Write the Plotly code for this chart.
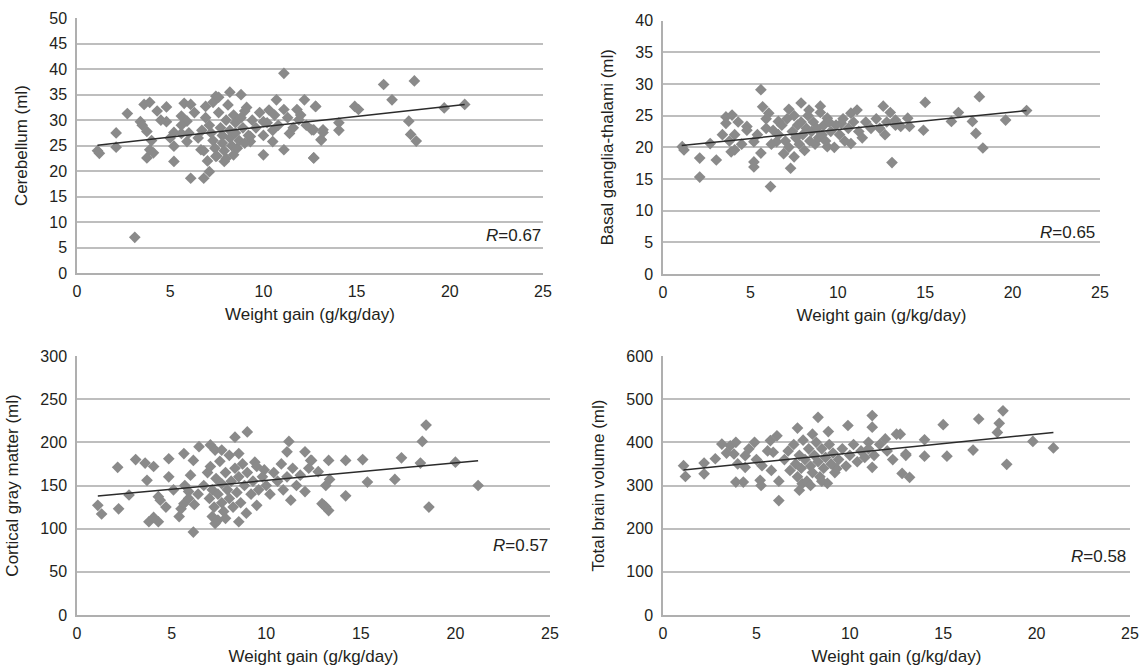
import plotly.graph_objects as go

# ---------------- data ----------------
# Panel A: Cerebellum
cb_x = [1.1, 1.2, 2.1, 2.1, 2.7, 3.1, 3.4, 3.6, 3.9, 3.75, 3.9, 3.75, 4.1, 4.3, 4.8, 4.8, 5.2, 5.2, 5.2,
        5.75, 6.1, 5.6, 5.9, 6.1, 5.6, 5.9, 6.65, 6.8, 7.1, 6.9, 7.45, 8.2, 8.8, 8.4, 7.9, 7.45, 9.0,
        9.3, 9.3, 10.0, 10.0, 10.7, 10.5, 11.1, 11.1, 11.4, 11.8, 12.2, 11.9, 12.7, 12.8, 12.6, 13.2,
        13.1, 11.1, 12.8, 12.7, 13.1, 13.2, 12.7, 14.05, 14.05, 14.9, 15.1, 16.45, 16.9, 18.1, 17.8,
        17.9, 18.2, 19.7, 20.8,
        6.9, 7.1, 7.2, 7.3, 7.4, 7.5, 7.6, 7.7, 7.8, 7.8, 7.9, 8.0, 8.0, 8.1, 8.2, 8.2, 8.3, 8.4, 8.5,
        8.5, 8.6, 8.7, 8.8, 8.9, 9.0, 9.1, 9.2, 9.4, 9.6, 9.8, 10.0, 10.2, 10.3, 10.5, 10.6, 10.8, 11.3,
        11.6, 12.0, 12.3, 6.5, 6.7, 6.8, 7.0, 7.3, 7.6, 6.3, 6.0, 5.6, 4.5, 4.0, 5.0, 3.5]
cb_y = [24.0, 23.5, 27.5, 24.7, 31.3, 7.0, 29.7, 33.1, 33.5, 27.8, 24.2, 22.6, 23.6, 31.8, 32.6, 29.7,
        24.9, 21.9, 27.6, 33.3, 33.1, 30.8, 29.8, 18.6, 27.4, 25.8, 24.2, 18.6, 19.9, 32.7, 34.7, 35.5,
        35.0, 23.2, 21.9, 22.9, 31.8, 26.8, 25.8, 23.2, 29.7, 34.0, 25.8, 32.1, 24.2, 27.4, 32.1, 34.0,
        30.1, 22.6, 32.7, 28.1, 28.1, 26.1, 39.2, 32.7, 28.1, 26.2, 27.6, 22.6, 29.5, 28.0, 32.7, 32.1,
        37.0, 34.0, 37.7, 29.8, 27.2, 25.9, 32.4, 33.1,
        30.5, 29.0, 27.5, 26.0, 24.5, 23.0, 31.5, 28.5, 27.0, 25.5, 24.0, 30.0, 22.5, 33.0, 28.0, 26.5,
        25.0, 31.0, 29.5, 27.5, 24.5, 26.0, 30.5, 28.5, 25.5, 32.5, 27.0, 30.0, 28.5, 31.5, 27.0, 29.5,
        32.0, 28.0, 31.0, 29.0, 30.5, 28.5, 31.0, 29.0, 26.5, 28.0, 24.0, 22.0, 33.5, 34.5, 31.5, 27.5,
        29.0, 30.0, 26.0, 26.5, 29.0]
cb_fit_x = [1.1, 20.8]
cb_fit_y = [25.1, 33.1]

# Panel B: Basal ganglia-thalami
bg_x = [1.2, 1.1, 2.1, 2.1, 2.7, 3.05, 3.4, 3.6, 3.95, 3.6, 4.1, 4.1, 3.9, 4.8, 4.8, 5.2, 5.2, 5.2,
        5.6, 5.7, 6.05, 6.15, 5.6, 5.9, 6.3, 6.6, 6.5, 7.2, 7.3, 7.9, 8.35, 9.0, 9.4, 9.4, 10.2, 10.75,
        11.1, 10.75, 12.6, 12.7, 13.1, 13.3, 14.0, 14.1, 13.6, 15.0, 14.9, 16.5, 16.9, 17.7, 18.1, 17.9,
        18.3, 19.6, 20.8,
        6.6, 6.8, 7.0, 7.1, 7.2, 7.4, 7.5, 7.6, 7.7, 7.8, 7.9, 8.0, 8.1, 8.2, 8.3, 8.4, 8.5, 8.6, 8.7,
        8.8, 8.9, 9.0, 9.1, 9.2, 9.3, 9.5, 9.6, 9.8, 9.9, 10.1, 10.3, 10.4, 10.6, 10.9, 11.2, 11.4,
        11.6, 11.9, 12.2, 12.4, 12.8, 13.0, 13.3, 6.2, 5.9, 5.4, 4.5, 4.3, 3.8, 6.9, 7.5]
bg_y = [19.6, 20.1, 18.3, 15.3, 20.6, 18.0, 22.0, 24.8, 25.1, 23.8, 22.0, 19.6, 19.3, 23.3, 22.7, 20.9,
        17.7, 16.9, 29.1, 26.4, 25.4, 13.8, 19.1, 23.0, 22.7, 24.1, 20.9, 26.0, 16.7, 27.0, 25.9, 26.5,
        24.6, 20.1, 23.8, 25.4, 25.9, 20.6, 26.5, 22.0, 17.6, 24.3, 24.6, 23.3, 23.3, 27.1, 22.7, 24.1,
        25.5, 24.1, 28.0, 22.2, 19.9, 24.3, 25.8,
        22.0, 23.5, 21.0, 24.5, 20.0, 22.5, 25.0, 21.5, 23.5, 20.5, 24.0, 22.0, 19.5, 23.0, 25.0, 21.0,
        22.5, 24.0, 20.5, 23.0, 21.5, 25.5, 22.0, 23.5, 21.0, 24.0, 22.5, 20.0, 23.5, 22.0, 24.5, 21.0,
        23.0, 24.0, 22.5, 21.5, 24.0, 23.0, 24.5, 23.0, 24.0, 25.5, 23.5, 20.5, 24.5, 22.0, 20.5, 24.0,
        21.0, 19.0, 18.5]
bg_fit_x = [1.07, 20.8]
bg_fit_y = [20.3, 25.8]

# Panel C: Cortical gray matter
cg_x = [1.1, 1.3, 2.15, 2.2, 2.75, 3.1, 3.6, 3.7, 4.05, 3.8, 4.3, 4.05, 4.3, 4.4, 4.85, 4.85, 5.4, 5.5,
        5.65, 5.65, 6.15, 6.0, 6.15, 6.45, 5.9, 7.05, 7.3, 7.65, 7.15, 7.3, 8.35, 9.0, 8.55, 8.55, 9.5,
        9.4, 9.9, 11.2, 11.1, 11.3, 12.05, 12.05, 12.4, 12.95, 13.15, 12.35, 12.25, 12.75, 13.3, 13.15,
        13.35, 13.05, 13.3, 14.2, 14.2, 15.1, 15.35, 16.8, 17.15, 18.45, 18.25, 18.15, 18.6, 20.0, 21.2,
        6.7, 6.9, 7.0, 7.05, 7.15, 7.25, 7.35, 7.45, 7.55, 7.65, 7.65, 7.75, 7.85, 7.95, 8.05, 8.05, 8.15,
        8.25, 8.35, 8.45, 8.55, 8.65, 8.75, 8.85, 8.95, 9.0, 9.2, 9.3, 9.5, 9.6, 9.8, 10.0, 10.2, 10.4,
        10.6, 10.8, 10.9, 11.1, 11.4, 11.6, 11.8, 6.4, 6.2, 5.9, 5.7, 5.1, 4.7, 7.45, 7.85]
cg_y = [127, 117, 171, 123, 139, 180, 176, 156, 172, 108, 108, 113, 137, 133, 181, 160, 114, 123,
        129, 187, 179, 162, 96, 195, 143, 197, 191, 191, 114, 106, 206, 212, 187, 108, 127, 177,
        168, 201, 189, 133, 189, 143, 179, 129, 125, 179, 170, 166, 179, 150, 157, 127,
        121, 179, 138, 180, 154, 157, 182, 220, 201, 176, 125, 177, 150,
        150, 165, 135, 172, 145, 125, 158, 140, 178, 130, 152, 120, 165, 145, 135, 185, 155, 125, 170,
        142, 160, 130, 175, 150, 118, 165, 140, 155, 172, 145, 160, 150, 140, 165, 155, 175, 145,
        160, 170, 150, 162, 140, 128, 135, 150, 145, 125, 110, 112]
cg_fit_x = [1.1, 21.2]
cg_fit_y = [137.7, 178.6]

# Panel D: Total brain volume
tb_x = [1.1, 1.2, 2.2, 2.2, 2.8, 3.15, 3.6, 3.9, 3.8, 3.9, 4.3, 4.4, 4.4, 4.9, 5.2, 5.25, 5.3, 5.75,
        5.9, 6.2, 6.1, 5.8, 7.2, 7.3, 7.45, 8.3, 8.0, 8.85, 9.3, 9.9, 11.2, 11.2, 11.2, 11.0, 11.9, 12.5,
        12.8, 13.2, 13.0, 12.7, 13.0, 14.0, 14.0, 15.0, 15.2, 16.6, 16.9, 18.2, 18.0, 17.9, 18.4, 19.8,
        20.9,
        6.5, 6.7, 6.8, 7.0, 7.1, 7.2, 7.3, 7.4, 7.5, 7.6, 7.7, 7.8, 7.9, 8.0, 8.1, 8.2, 8.3, 8.4, 8.5,
        8.6, 8.7, 8.8, 8.9, 9.0, 9.1, 9.2, 9.4, 9.6, 9.8, 10.0, 10.2, 10.4, 10.6, 10.8, 11.0, 11.3, 11.6,
        12.0, 12.3, 6.2, 5.6, 5.0, 4.6, 4.0, 3.4, 7.9, 8.5]
tb_y = [346, 321, 352, 327, 362, 396, 392, 400, 373, 308, 308, 369, 342, 400, 312, 300, 346, 404,
        377, 265, 415, 335, 433, 289, 304, 458, 419, 425, 339, 439, 462, 435, 342, 400, 408, 419,
        328, 319, 370, 419, 373, 406, 368, 441, 368, 382, 454, 473, 444, 423, 349, 402,
        387,
        360, 380, 335, 395, 350, 320, 370, 340, 405, 360, 310, 385, 345, 330, 370, 400, 355, 320, 385,
        340, 365, 305, 395, 350, 375, 330, 360, 385, 345, 370, 395, 355, 380, 365, 385, 370, 395,
        380, 360, 310, 380, 360, 385, 350, 375, 300, 310]
tb_fit_x = [1.1, 20.9]
tb_fit_y = [336, 423]

x_ticks = [0, 5, 10, 15, 20, 25]
x_title = "Weight gain (g/kg/day)"
y_titles = ["Cerebellum (ml)", "Basal ganglia-thalami (ml)",
            "Cortical gray matter (ml)", "Total brain volume (ml)"]
r_labels = ["0.67", "0.65", "0.57", "0.58"]
y_ranges = [(0, 50, 5), (0, 40, 5), (0, 300, 50), (0, 600, 100)]
r_pos = [(25.0, 7.4), (24.8, 6.5), (25.0, 81), (24.9, 136)]

# ---------------- figure ----------------
W, H = 1145, 670
def px(v):
    return v / W
def py(v):
    return 1 - v / H

doms = [
    ((px(77), px(543)), (py(273), py(18.3))),
    ((px(663), px(1100)), (py(274), py(20.7))),
    ((px(77), px(550)), (py(615), py(356))),
    ((px(663), px(1130)), (py(615), py(356))),
]

MARK = "rgb(138,138,138)"
TXT = "#231f20"
GRID = "rgb(190,190,190)"
AXL = "rgb(175,175,175)"
FONT = "Liberation Sans, Arial, sans-serif"

fig = go.Figure()
series = [(cb_x, cb_y, cb_fit_x, cb_fit_y), (bg_x, bg_y, bg_fit_x, bg_fit_y),
          (cg_x, cg_y, cg_fit_x, cg_fit_y), (tb_x, tb_y, tb_fit_x, tb_fit_y)]

layout = dict(
    width=W, height=H, margin=dict(l=0, r=0, t=0, b=0, pad=0),
    paper_bgcolor="white", plot_bgcolor="white", showlegend=False,
    font=dict(family=FONT, size=16, color=TXT),
    annotations=[],
)

for i, (sx, sy, fx, fy) in enumerate(series):
    n = "" if i == 0 else str(i + 1)
    xa, ya = "x" + n, "y" + n
    fig.add_trace(go.Scatter(x=sx, y=sy, mode="markers", xaxis=xa, yaxis=ya,
                             marker=dict(symbol="diamond", size=9, color=MARK,
                                         line=dict(width=0))))
    fig.add_trace(go.Scatter(x=fx, y=fy, mode="lines", xaxis=xa, yaxis=ya,
                             line=dict(color="#2b2b2b", width=1.5)))
    y0, y1, dy = y_ranges[i]
    layout["xaxis" + n] = dict(
        domain=list(doms[i][0]), anchor=ya, range=[0, 25], tickvals=x_ticks,
        showgrid=False, zeroline=False, showline=True, linecolor=AXL,
        linewidth=1.5, ticks="", automargin=False, ticklabelstandoff=3,
        tickfont=dict(size=16, color=TXT),
        title=dict(text=x_title, font=dict(size=17, color=TXT), standoff=9),
    )
    layout["yaxis" + n] = dict(
        domain=list(doms[i][1]), anchor=xa, range=[y0, y1], dtick=dy, tick0=0,
        showgrid=True, gridcolor=GRID, gridwidth=1.5, zeroline=False,
        showline=True, linecolor=AXL, linewidth=1.5, ticks="", automargin=False,
        tickfont=dict(size=16, color=TXT), ticklabelstandoff=5,
        title=dict(text=y_titles[i], font=dict(size=17, color=TXT), standoff=17),
    )
    layout["annotations"].append(dict(
        text="<i>R</i>=" + r_labels[i], xref=xa, yref=ya, x=r_pos[i][0], y=r_pos[i][1],
        xanchor="right", yanchor="middle", showarrow=False,
        font=dict(size=17, color=TXT)))

fig.update_layout(**layout)
fig.write_html("out.html", config={"displayModeBar": False},
               post_script="document.body.style.margin='0px';document.body.style.overflow='hidden';")
